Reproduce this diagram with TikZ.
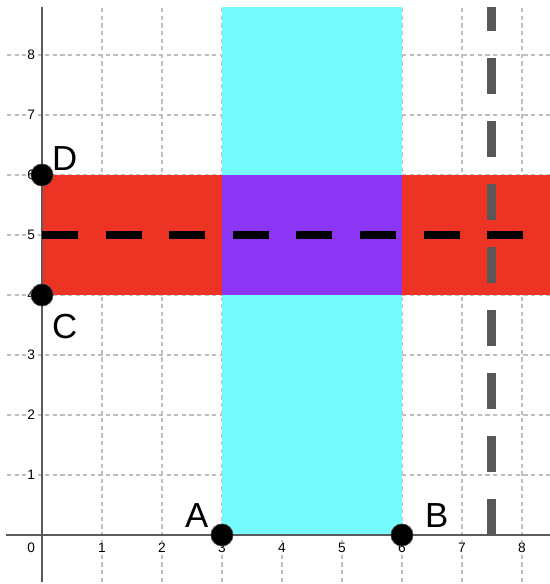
\documentclass[tikz,border=0pt]{standalone}
\usepackage{fontspec}
\setmainfont{Liberation Sans}
\usepackage{xcolor}
\usepackage{tikz}

\definecolor{bandred}{RGB}{236,51,36}
\definecolor{bandcyan}{RGB}{117,251,251}
\definecolor{bandpurple}{RGB}{140,54,245}
\definecolor{axisgray}{RGB}{90,90,90}
\definecolor{dashgray}{RGB}{88,88,88}

\begin{document}
\begin{tikzpicture}[
			x=1cm,
			y=1cm,
			line cap=butt,
			gridline/.style={black!25,line width=0.5pt,dash pattern=on 2pt off 1.6pt},
			axisline/.style={axisgray,line width=0.9pt},
			ticklabel/.style={font=\fontsize{6.5}{7}\selectfont,fill=white,inner sep=0.6pt},
			blackdash/.style={black,line width=0.14cm,dash pattern=on 0.6cm off 0.46cm},
			graydash/.style={dashgray,line width=0.15cm,dash pattern=on 0.6cm off 0.45cm},
			point/.style={circle,fill=black,draw=black!70,line width=0.3pt,minimum size=0.37cm,inner sep=0pt},
			pointlabel/.style={font=\fontsize{16.5}{18}\selectfont,inner sep=0pt}
			]
			
			% 기본 수치
			\pgfmathsetmacro{\xmin}{-0.7}
			\pgfmathsetmacro{\xmax}{8.467}
			\pgfmathsetmacro{\ymin}{-0.817}
			\pgfmathsetmacro{\ymax}{8.917}
			\pgfmathsetmacro{\ytop}{8.8}
			
			\useasboundingbox (\xmin,\ymin) rectangle (\xmax,\ymax);
			
			% 격자
			\foreach \k in {1,...,8} {
				\draw[gridline] (-0.58,\k) -- (\xmax,\k);
				\draw[gridline] (\k,-0.78) -- (\k,\ytop);
			}
			
			% 띠
			\fill[bandred] (0,4) rectangle (\xmax,6);
			\fill[bandcyan] (3,0) rectangle (6,\ytop);
			\fill[bandpurple] (3,4) rectangle (6,6);
			
			% 축
			\draw[axisline] (-0.6,0) -- (\xmax,0);
			\draw[axisline] (0,-0.78) -- (0,\ytop);
			
			% 눈금
			\node[ticklabel] (t0) at (-0.18,-0.22) {0};
			\foreach \k in {1,...,8} {
				\node[ticklabel] (tx\k) at (\k,-0.22) {\k};
				\node[ticklabel] (ty\k) at (-0.18,\k) {\k};
			}
			
			% 점선
			\coordinate (hstart) at (0,5);
			\coordinate (hend) at (\xmax,5);
			\coordinate (vstart) at (7.5,0);
			\coordinate (vend) at (7.5,\ytop);
			\draw[graydash] (vstart) -- (vend);
			\draw[blackdash] (hstart) -- (hend);
			
			% 점
			\node[point] (A) at (3,0) {};
			\node[point] (B) at (6,0) {};
			\node[point] (C) at (0,4) {};
			\node[point] (D) at (0,6) {};
			
			\node[pointlabel] (labA) at (2.58,0.33) {A};
			\node[pointlabel] (labB) at (6.58,0.33) {B};
			\node[pointlabel] (labC) at (0.38,3.47) {C};
			\node[pointlabel] (labD) at (0.38,6.27) {D};
			
		\end{tikzpicture}
\end{document}
